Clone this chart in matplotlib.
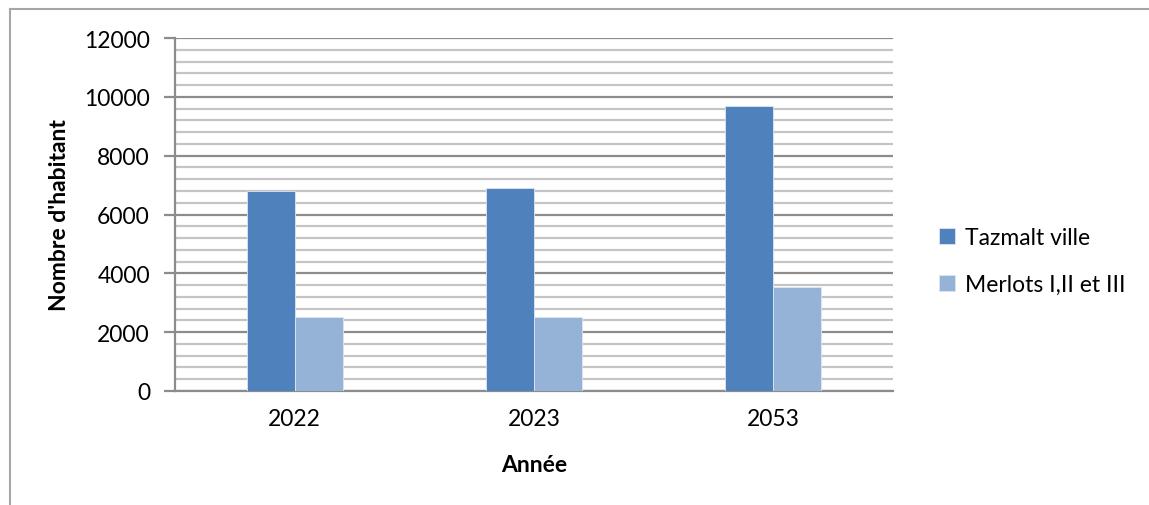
import numpy as np
import matplotlib.pyplot as plt
from matplotlib.lines import Line2D
from matplotlib.ticker import MultipleLocator

years = ['2022', '2023', '2053']
tazmalt = [6800, 6900, 9700]
merlots = [2500, 2530, 3540]
series_names = ['Tazmalt ville', 'Merlots I,II et III']
colors = ['#4F81BD', '#95B3D7']

plt.rcParams['font.family'] = ['Lato', 'DejaVu Sans']
fs = 16.5

W, H = 1149, 506
fig = plt.figure(figsize=(W / 100, H / 100), dpi=100)
ax = fig.add_axes([175 / W, 1 - 392 / H, (893 - 175) / W, (392 - 39) / H])

x = np.arange(len(years))
bw = 0.2
ax.bar(x - bw / 2, tazmalt, bw, color=colors[0], edgecolor='#DCE6F2', linewidth=0.6,
       label=series_names[0], zorder=3)
ax.bar(x + bw / 2, merlots, bw, color=colors[1], edgecolor='#DCE6F2', linewidth=0.6,
       label=series_names[1], zorder=3)

ax.set_xlim(-0.5, 2.5)
ax.set_ylim(0, 12000)
ax.yaxis.set_major_locator(MultipleLocator(2000))
ax.yaxis.set_minor_locator(MultipleLocator(400))
ax.grid(which='major', axis='y', color='#8C8C8C', linewidth=1.6, zorder=0)
ax.grid(which='minor', axis='y', color='#C4C4C4', linewidth=1.6, zorder=0)
ax.set_axisbelow(True)

ax.set_xticks(x)
ax.set_xticklabels(years)
ax.tick_params(axis='x', length=0, pad=12, labelsize=fs)
ax.tick_params(axis='y', which='major', length=8, width=1.6, color='#8C8C8C',
               direction='out', pad=10, labelsize=fs)
ax.tick_params(axis='y', which='minor', length=0)

for side in ['top', 'right']:
    ax.spines[side].set_visible(False)
for side in ['left', 'bottom']:
    ax.spines[side].set_color('#8C8C8C')
    ax.spines[side].set_linewidth(1.6)

ax.set_xlabel('Année', fontsize=fs, fontweight='bold', labelpad=18)
ax.set_ylabel("Nombre d'habitant", fontsize=fs, fontweight='bold', labelpad=10)

ax.legend(loc='center left', bbox_to_anchor=(918 / W, 1 - 262 / H),
          bbox_transform=fig.transFigure, frameon=False, fontsize=fs,
          handlelength=0.7, handleheight=0.7, handletextpad=0.45,
          labelspacing=1.1)

# outer chart frame
fig.add_artist(Line2D([9.5 / W, 1.0], [1 - 9.5 / H, 1 - 9.5 / H],
                      transform=fig.transFigure, color='#A6A6A6', linewidth=1.5))
fig.add_artist(Line2D([9.5 / W, 9.5 / W], [0.0, 1 - 9.5 / H],
                      transform=fig.transFigure, color='#A6A6A6', linewidth=1.5))

fig.savefig('out.png', dpi=100)
